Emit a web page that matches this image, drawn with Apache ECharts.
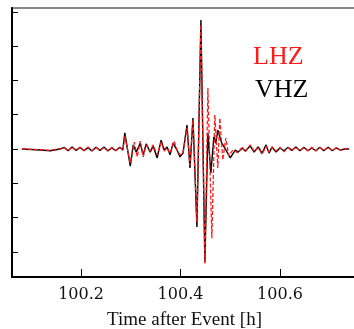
<!DOCTYPE html>
<html>
<head>
<meta charset="utf-8">
<script src="https://cdn.jsdelivr.net/npm/echarts@6/dist/echarts.min.js"></script>
<style>
  html, body { margin: 0; padding: 0; background: #fff; }
  #chart { width: 354px; height: 329px; }
</style>
</head>
<body>
<div id="chart"></div>
<script>
// trace names, as drawn top to bottom in the key
const traceNames = ['LHZ', 'VHZ']

// x tick positions (hours after event)
const xTicks = [100.2, 100.4, 100.6]
// y ticks, no labels
const yTicks = [-3, -2, -1, 0, 1, 2, 3, 4]

// VHZ (black) trace, read at turning points
const vhzTime = [
  100.081, 100.118, 100.138, 100.158, 100.166, 100.174, 100.182, 100.190, 100.198, 100.206,
  100.214, 100.222, 100.230, 100.238, 100.246, 100.254, 100.262, 100.270, 100.278, 100.284,
  100.288, 100.299, 100.305, 100.311, 100.319, 100.325, 100.331, 100.339, 100.345, 100.353,
  100.361, 100.367, 100.373, 100.379, 100.385, 100.393, 100.399, 100.405, 100.413, 100.419,
  100.425, 100.433, 100.441, 100.449, 100.455, 100.461, 100.467, 100.471, 100.475, 100.483,
  100.489, 100.500, 100.510, 100.516, 100.524, 100.530, 100.540, 100.548, 100.556, 100.564,
  100.572, 100.578, 100.584, 100.592, 100.600, 100.608, 100.616, 100.624, 100.632, 100.640,
  100.648, 100.656, 100.664, 100.672, 100.680, 100.688, 100.697, 100.705, 100.713, 100.721,
  100.731, 100.739
]
const vhzValue = [
  0, -0.03, -0.05, 0, 0.05, -0.05, 0.06, -0.04, 0.05, -0.05,
  0.04, -0.06, 0.05, -0.04, 0.06, -0.05, 0.03, -0.05, 0.05, -0.03,
  0.47, -0.50, 0.12, -0.09, 0.17, -0.17, 0.15, -0.09, 0.09, -0.26,
  0.26, -0.03, 0.06, -0.17, 0.17, -0.03, -0.23, -0.12, 0.70, -0.55,
  0.90, -2.27, 3.76, -3.30, 0.47, -0.70, 0.35, 0.17, 0.55, 0.17,
  0.03, -0.26, -0.03, -0.09, 0.03, -0.06, 0.09, -0.09, 0.06, -0.12,
  0.12, -0.12, 0.06, -0.09, 0.03, -0.05, 0.05, -0.04, 0.06, -0.05,
  0.05, -0.05, 0.03, -0.05, 0.05, -0.05, 0.05, -0.05, 0.03, -0.03,
  0, 0
]

// LHZ (red, dashed) trace
const lhzTime = [
  100.081, 100.118, 100.138, 100.158, 100.166, 100.174, 100.182, 100.190, 100.198, 100.206,
  100.214, 100.222, 100.230, 100.238, 100.246, 100.254, 100.262, 100.270, 100.278, 100.284,
  100.288, 100.299, 100.307, 100.313, 100.319, 100.325, 100.331, 100.339, 100.345, 100.353,
  100.361, 100.367, 100.373, 100.379, 100.387, 100.393, 100.399, 100.405, 100.413, 100.419,
  100.425, 100.433, 100.441, 100.449, 100.455, 100.463, 100.469, 100.475, 100.479, 100.485,
  100.491, 100.497, 100.505, 100.516, 100.524, 100.530, 100.540, 100.548, 100.556, 100.564,
  100.572, 100.578, 100.584, 100.592, 100.600, 100.608, 100.616, 100.624, 100.632, 100.640,
  100.648, 100.656, 100.664, 100.672, 100.680, 100.688, 100.697, 100.705, 100.713, 100.721,
  100.731, 100.739
]
const lhzValue = [
  0, -0.02, -0.04, 0.01, 0.04, -0.05, 0.06, -0.04, 0.04, -0.04,
  0.06, -0.05, 0.05, -0.04, 0.04, -0.06, 0.05, -0.04, 0.04, -0.03,
  0.38, -0.41, 0.20, -0.23, 0.23, -0.23, 0.12, -0.06, 0.12, -0.17,
  0.20, -0.06, 0.03, -0.12, 0.23, -0.03, -0.17, -0.09, 0.61, -0.47,
  0.85, -2.13, 3.62, -3.35, 1.78, -2.60, 0.99, -0.55, 0.90, -0.32,
  0.32, -0.20, -0.03, -0.12, 0.06, -0.09, 0.12, -0.06, 0.03, -0.15,
  0.09, -0.09, 0.06, -0.06, 0.05, -0.08, 0.04, -0.04, 0.06, -0.05,
  0.04, -0.05, 0.05, -0.06, 0.04, -0.04, 0.06, -0.05, 0.04, -0.03,
  0.01, 0
]

const pair = (t, v) => t.map((x, i) => [x, v[i]])

const chart = echarts.init(document.getElementById('chart'), null, { renderer: 'canvas' })

const serif = '"Liberation Serif", "Times New Roman", serif'

chart.setOption({
  animation: false,
  backgroundColor: '#fff',
  // grid border gives the grey top frame line; its right edge sits just off the canvas
  grid: {
    left: 12, right: -3, top: 8, bottom: 52,
    outerBoundsMode: 'none',
    show: true, borderColor: '#888', borderWidth: 2,
  },
  xAxis: {
    type: 'value',
    min: 100.0612,
    max: 100.7548,
    axisLine: { show: true, onZero: false, lineStyle: { color: '#000', width: 2 } },
    axisTick: { show: true, inside: true, length: 8, customValues: xTicks, lineStyle: { color: '#000', width: 1 } },
    axisLabel: {
      customValues: xTicks,
      formatter: (v) => v.toFixed(1),
      color: '#111',
      fontFamily: '"DejaVu Serif", serif',
      fontSize: 16,
      margin: 10,
    },
    splitLine: { show: false },
    name: 'Time after Event [h]',
    nameLocation: 'middle',
    nameGap: 34,
    nameTextStyle: { color: '#111', fontFamily: serif, fontSize: 19 },
  },
  yAxis: {
    type: 'value',
    min: -3.73,
    max: 4.11,
    axisLine: { show: true, onZero: false, lineStyle: { color: '#000', width: 2 } },
    axisTick: { show: true, inside: true, length: 6, customValues: yTicks, lineStyle: { color: '#000', width: 1 } },
    axisLabel: { show: false },
    splitLine: { show: false },
  },
  series: [
    {
      name: traceNames[1],
      type: 'line',
      data: pair(vhzTime, vhzValue),
      showSymbol: false,
      lineStyle: { color: '#000', width: 1.4 },
    },
    {
      name: traceNames[0],
      type: 'line',
      data: pair(lhzTime, lhzValue),
      showSymbol: false,
      lineStyle: { color: '#ff1a1a', width: 1.3, type: [4, 2] },
    },
  ],
  graphic: [
    {
      type: 'text',
      left: 253,
      top: 44,
      style: { text: traceNames[0], fill: '#ff1a1a', font: '26px ' + serif },
    },
    {
      type: 'text',
      left: 255,
      top: 77,
      style: { text: traceNames[1], fill: '#000', font: '26px ' + serif },
    },
  ],
})
</script>
</body>
</html>
